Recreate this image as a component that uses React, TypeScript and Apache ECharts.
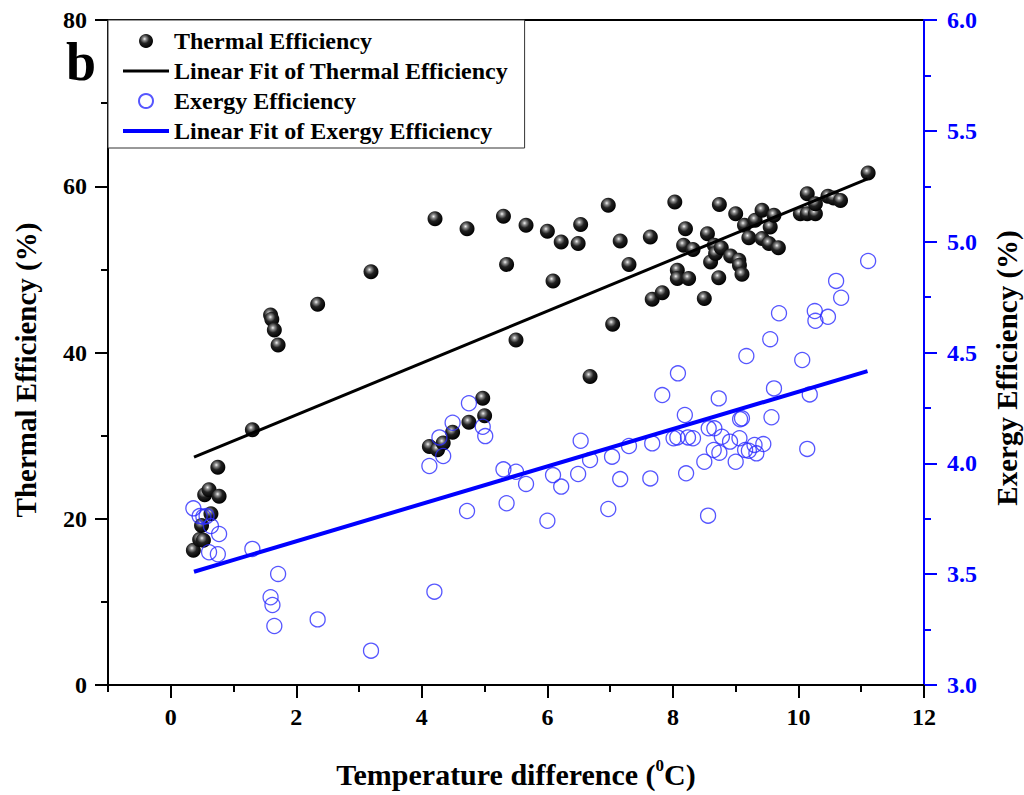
import React, { useEffect, useRef } from "react";
import * as echarts from "echarts";

const FONT = "'Liberation Serif', 'Times New Roman', serif";

const xMajorTicks = [0, 2, 4, 6, 8, 10, 12];
const xMinorTicks = [-1, 1, 3, 5, 7, 9, 11];

const thermalX = [
  0.36, 0.46, 0.52, 0.49, 0.64, 0.54, 0.61, 0.77, 0.75, 1.3, 1.59, 1.61, 1.65, 1.71, 2.34, 3.19,
  4.12, 4.25, 4.34, 4.49, 4.75, 4.97, 5.0, 4.21, 4.72, 5.3, 5.35, 5.5, 5.66, 6.0, 6.09, 6.22,
  6.49, 6.53, 6.68, 6.97, 7.04, 7.16, 7.3, 7.64, 7.67, 7.83, 8.03, 8.07, 8.07, 8.17, 8.2, 8.25,
  8.32, 8.5, 8.55, 8.6, 8.66, 8.68, 8.73, 8.74, 8.77, 8.92, 9.0, 9.05, 9.06, 9.1, 9.14, 9.21,
  9.31, 9.42, 9.42, 9.53, 9.55, 9.61, 9.68, 10.03, 10.14, 10.27, 10.14, 10.27, 10.47, 10.56, 10.67, 11.11,
];
const thermalY = [
  16.2, 17.5, 17.4, 19.2, 20.6, 22.9, 23.5, 22.7, 26.2, 30.7, 44.5, 44.0, 42.7, 40.9, 45.8, 49.7,
  28.7, 28.3, 29.1, 30.4, 31.6, 34.5, 32.4, 56.1, 54.9, 56.4, 50.6, 41.5, 55.3, 54.6, 48.6, 53.3,
  53.1, 55.4, 37.1, 57.7, 43.4, 53.4, 50.6, 53.9, 46.4, 47.2, 58.1, 49.9, 48.9, 52.9, 54.9, 48.9,
  52.4, 46.5, 54.3, 50.9, 52.9, 51.9, 49.0, 57.8, 52.6, 51.6, 56.7, 51.1, 50.5, 49.4, 55.3, 53.8,
  55.9, 57.1, 53.7, 53.1, 55.1, 56.5, 52.6, 56.7, 56.7, 56.7, 59.1, 57.9, 58.8, 58.6, 58.3, 61.6,
];

const exergyX = [
  0.36, 0.46, 0.52, 0.57, 0.64, 0.77, 0.61, 0.75, 1.3, 1.71, 1.59, 1.62, 1.65, 2.34, 3.19, 4.2,
  4.12, 4.34, 4.28, 4.49, 4.75, 4.97, 5.01, 4.72, 5.3, 5.5, 5.66, 5.35, 6.0, 6.09, 6.22, 6.49,
  6.53, 6.68, 6.97, 7.03, 7.16, 7.3, 7.64, 7.67, 7.83, 8.08, 8.01, 8.07, 8.19, 8.21, 8.24, 8.32,
  8.5, 8.56, 8.57, 8.66, 8.65, 8.74, 8.78, 8.91, 9.0, 9.06, 8.73, 9.07, 9.1, 9.17, 9.15, 9.21,
  9.33, 9.3, 9.44, 9.57, 9.61, 9.55, 10.06, 10.18, 10.14, 11.11, 10.6, 10.68, 10.26, 10.47, 10.27, 9.69,
];
const exergyY = [
  3.797, 3.762, 3.759, 3.762, 3.717, 3.681, 3.599, 3.59, 3.614, 3.501, 3.396, 3.361, 3.266, 3.296, 3.155, 3.421,
  3.988, 4.033, 4.117, 4.183, 4.271, 4.165, 4.123, 3.785, 3.973, 3.962, 3.907, 3.82, 3.741, 3.947, 3.895, 3.952,
  4.102, 4.015, 3.794, 4.03, 3.929, 4.078, 3.932, 4.09, 4.308, 4.406, 4.113, 4.117, 4.218, 3.955, 4.117, 4.113,
  4.007, 3.764, 4.158, 4.158, 4.06, 4.048, 4.12, 4.098, 4.007, 4.113, 4.293, 4.199, 4.203, 4.484, 4.06, 4.057,
  4.045, 4.083, 4.087, 4.208, 4.338, 4.56, 4.466, 4.311, 4.065, 4.913, 4.823, 4.747, 4.687, 4.661, 4.643, 4.677,
];

const fitX = [0.37, 11.1];
const thermalFitY = [27.4, 60.9];
const exergyFitY = [3.511, 4.416];

const zip = (xs: number[], ys: number[]) => xs.map((x, i) => [x, ys[i]]);

export default function App() {
  const ref = useRef<HTMLDivElement>(null);
  useEffect(() => {
    if (!ref.current) return;
    const chart = echarts.init(ref.current, null, { renderer: "svg" });
    const sphere = {
      type: "radial",
      x: 0.4,
      y: 0.35,
      r: 0.65,
      colorStops: [
        { offset: 0, color: "#f4f4f4" },
        { offset: 0.2, color: "#8a8a8a" },
        { offset: 0.5, color: "#222" },
        { offset: 1, color: "#000" },
      ],
    };
    const black = "#000";
    const blue = "#0000ff";
    const labelStyle = { fontFamily: FONT, fontWeight: "bold", fontSize: 24, color: black };
    const hiddenSymbol = { color: "rgba(0,0,0,0)", borderWidth: 0, opacity: 0 };
    chart.setOption({
      animation: false,
      backgroundColor: "#fff",
      grid: {
        left: 108,
        right: 100,
        top: 20,
        bottom: 110,
        show: true,
        borderColor: black,
        borderWidth: 2,
        backgroundColor: "transparent",
      },
      legend: {
        left: 108,
        top: 20,
        orient: "vertical",
        padding: [9, 16, 5, 13],
        itemGap: 6,
        itemWidth: 46,
        itemHeight: 14,
        borderColor: "#333",
        borderWidth: 1,
        backgroundColor: "#fff",
        textStyle: { fontFamily: FONT, fontWeight: "bold", fontSize: 24, color: black },
        data: [
          { name: "Thermal Efficiency" },
          { name: "Linear Fit of Thermal Efficiency", itemStyle: hiddenSymbol, lineStyle: { color: black, width: 3 } },
          { name: "Exergy Efficiency" },
          { name: "Linear Fit of Exergy Efficiency", itemStyle: hiddenSymbol, lineStyle: { color: blue, width: 4 } },
        ],
      },
      xAxis: [
        {
          type: "value",
          min: -1,
          max: 12,
          position: "bottom",
          axisLine: { show: true, onZero: false, lineStyle: { color: black, width: 2 } },
          axisTick: { show: true, customValues: xMajorTicks, length: 13, lineStyle: { color: black, width: 2 } },
          axisLabel: { ...labelStyle, customValues: xMajorTicks, margin: 20 },
          splitLine: { show: false },
        },
        {
          type: "value",
          min: -1,
          max: 12,
          position: "bottom",
          axisLine: { show: false, onZero: false },
          axisTick: { show: true, customValues: xMinorTicks, length: 7, lineStyle: { color: black, width: 2 } },
          axisLabel: { show: false },
          splitLine: { show: false },
        },
      ],
      yAxis: [
        {
          type: "value",
          min: 0,
          max: 80,
          interval: 20,
          position: "left",
          axisLine: { show: true, onZero: false, lineStyle: { color: black, width: 2 } },
          axisTick: { show: true, length: 13, lineStyle: { color: black, width: 2 } },
          minorTick: { show: true, splitNumber: 2, length: 7, lineStyle: { color: black, width: 2 } },
          axisLabel: { ...labelStyle, margin: 21 },
          splitLine: { show: false },
        },
        {
          type: "value",
          min: 3,
          max: 6,
          interval: 0.5,
          position: "right",
          axisLine: { show: true, onZero: false, lineStyle: { color: blue, width: 2 } },
          axisTick: { show: true, length: 13, lineStyle: { color: blue, width: 2 } },
          minorTick: { show: true, splitNumber: 2, length: 7, lineStyle: { color: blue, width: 2 } },
          axisLabel: { ...labelStyle, color: blue, margin: 23, formatter: (v: number) => v.toFixed(1) },
          splitLine: { show: false },
        },
      ],
      series: [
        {
          name: "Thermal Efficiency",
          type: "scatter",
          xAxisIndex: 0,
          yAxisIndex: 0,
          symbol: "circle",
          symbolSize: 15,
          itemStyle: { color: sphere, opacity: 1 },
          data: zip(thermalX, thermalY),
          z: 2,
        },
        {
          name: "Linear Fit of Thermal Efficiency",
          type: "line",
          xAxisIndex: 0,
          yAxisIndex: 0,
          symbol: "none",
          showSymbol: false,
          lineStyle: { color: black, width: 3 },
          itemStyle: { color: black },
          data: zip(fitX, thermalFitY),
          z: 3,
        },
        {
          name: "Exergy Efficiency",
          type: "scatter",
          xAxisIndex: 0,
          yAxisIndex: 1,
          symbol: "circle",
          symbolSize: 15,
          itemStyle: { color: "rgba(255,255,255,0)", borderColor: "#2c2cff", borderWidth: 1.3 },
          data: zip(exergyX, exergyY),
          z: 4,
        },
        {
          name: "Linear Fit of Exergy Efficiency",
          type: "line",
          xAxisIndex: 0,
          yAxisIndex: 1,
          symbol: "none",
          showSymbol: false,
          lineStyle: { color: blue, width: 4 },
          itemStyle: { color: blue },
          data: zip(fitX, exergyFitY),
          z: 5,
        },
      ],
      graphic: [
        {
          type: "text",
          x: 81,
          y: 62,
          style: {
            text: "b",
            fontFamily: FONT,
            fontWeight: "bold",
            fontSize: 54,
            fill: black,
            align: "center",
            verticalAlign: "middle",
          },
        },
        {
          type: "text",
          x: 26,
          y: 370,
          rotation: Math.PI / 2,
          style: {
            text: "Thermal Efficiency (%)",
            fontFamily: FONT,
            fontWeight: "bold",
            fontSize: 29,
            fill: black,
            align: "center",
            verticalAlign: "middle",
          },
        },
        {
          type: "text",
          x: 1007,
          y: 368,
          rotation: Math.PI / 2,
          style: {
            text: "Exergy Efficiency (%)",
            fontFamily: FONT,
            fontWeight: "bold",
            fontSize: 29,
            fill: black,
            align: "center",
            verticalAlign: "middle",
          },
        },
        {
          type: "text",
          x: 516,
          y: 774,
          style: {
            text: "{a|Temperature difference (}{s|0}{a|C)}",
            fontFamily: FONT,
            fontWeight: "bold",
            fontSize: 30,
            fill: black,
            align: "center",
            verticalAlign: "middle",
            rich: {
              a: { fontFamily: FONT, fontWeight: "bold", fontSize: 30, lineHeight: 34, fill: black },
              s: { fontFamily: FONT, fontWeight: "bold", fontSize: 17, lineHeight: 34, verticalAlign: "top", fill: black, padding: [0, 0, 12, 0] },
            },
          },
        },
      ],
    });
    return () => chart.dispose();
  }, []);
  return <div ref={ref} style={{ width: 1024, height: 795, position: "absolute", left: 0, top: 0 }} />;
}
